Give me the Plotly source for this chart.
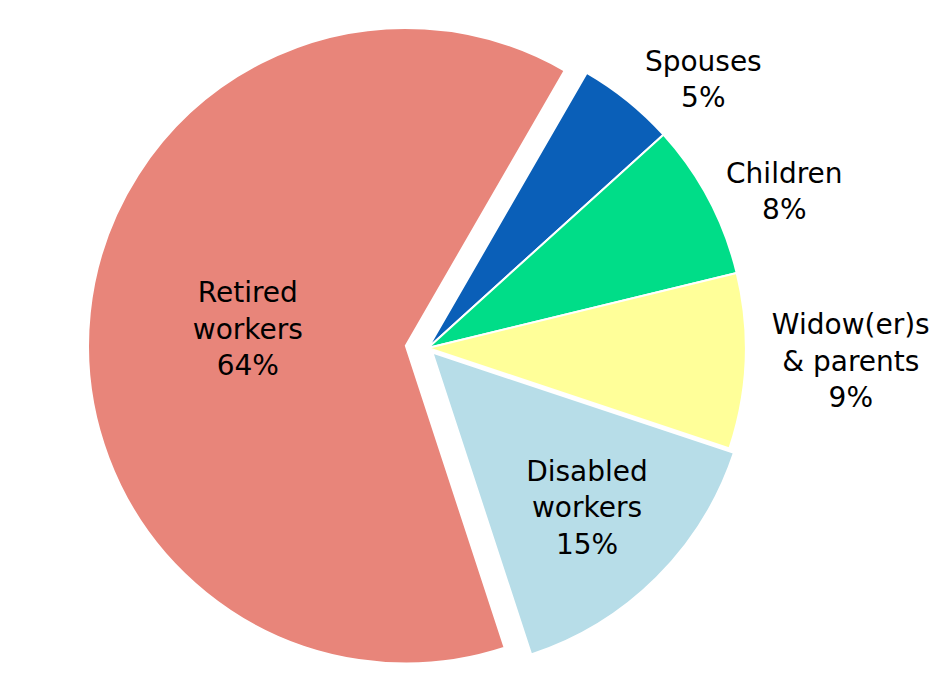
import plotly.graph_objects as go

labels = ["Spouses", "Children", "Widow(er)s<br>& parents", "Disabled<br>workers", "Retired<br>workers"]
values = [5, 8, 9, 15, 64]
colors = ["#0A5FB8", "#00DD88", "#FFFF99", "#B7DDE8", "#E8857A"]
positions = ["outside", "outside", "outside", "inside", "inside"]
pulls = [0.0, 0.0, 0.0, 0.02, 0.07]

fig = go.Figure(go.Pie(
    labels=labels,
    values=values,
    sort=False,
    direction="clockwise",
    rotation=30,
    pull=pulls,
    marker=dict(colors=colors, line=dict(color="white", width=2)),
    texttemplate="%{label}<br>%{value}%",
    textposition=positions,
    insidetextorientation="horizontal",
    textfont=dict(family="DejaVu Sans", size=28, color="black"),
    hoverinfo="label+value",
    domain=dict(x=[0.0, 0.885], y=[0.0, 1.0]),
    automargin=False,
))
fig.update_layout(
    width=949, height=680,
    margin=dict(l=0, r=0, t=0, b=0),
    paper_bgcolor="white",
    showlegend=False,
)
fig.write_html("out.html")
